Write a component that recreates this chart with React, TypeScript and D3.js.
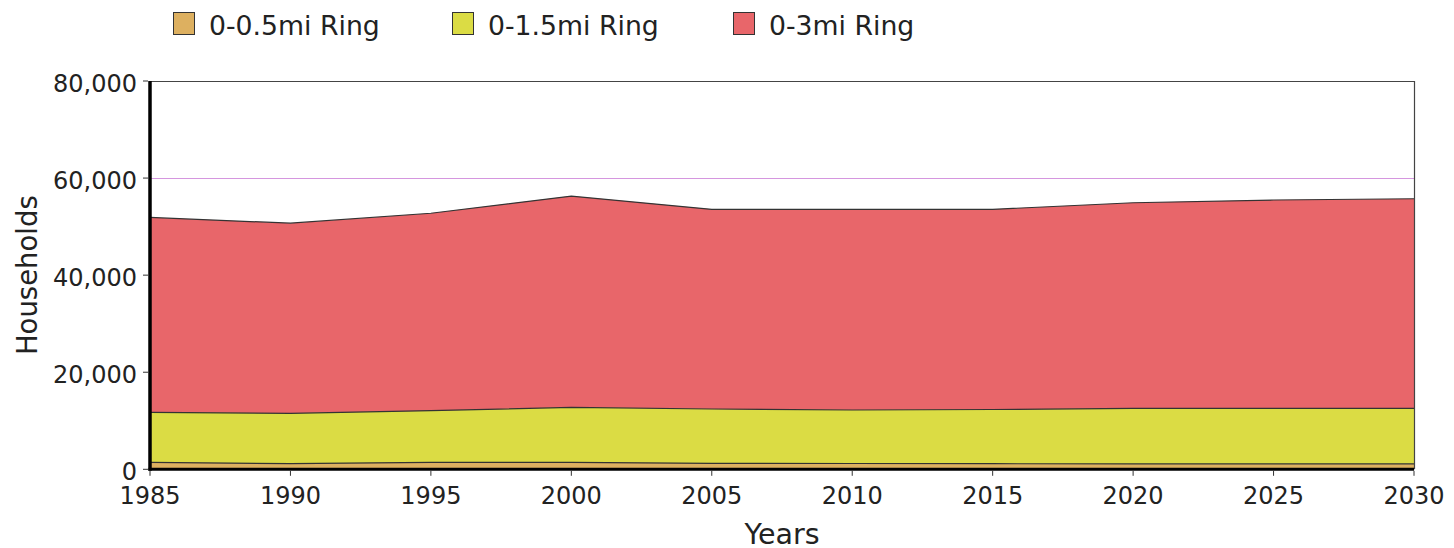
import * as d3 from "d3";
import { useEffect, useRef } from "react";

// years on the x axis
const years = [1985, 1990, 1995, 2000, 2005, 2010, 2015, 2020, 2025, 2030];
// households in each ring (rings overlap: 0-3mi includes 0-1.5mi etc.)
const ring05 = [1440, 1150, 1440, 1440, 1240, 1200, 1150, 1100, 1100, 1100];
const ring15 = [11740, 11540, 12070, 12770, 12420, 12220, 12320, 12570, 12570, 12570];
const ring3 = [51900, 50700, 52750, 56300, 53560, 53560, 53560, 54920, 55480, 55740];

const seriesNames = ["0-0.5mi Ring", "0-1.5mi Ring", "0-3mi Ring"];
const seriesColors = ["#ddb060", "#dbdc44", "#e8666a"];
const yTicks = [0, 20000, 40000, 60000, 80000];
const xTicks = [1985, 1990, 1995, 2000, 2005, 2010, 2015, 2020, 2025, 2030];

const FONT = "'DejaVu Sans', sans-serif";

const App = () => {
  const chartRef = useRef<SVGSVGElement | null>(null);

  const width = 1454;
  const height = 548;
  const margin = { top: 81, bottom: 78.7, left: 150, right: 40 };

  useEffect(() => {
    const svg = d3.select(chartRef.current);
    svg.selectAll("*").remove();

    const x = d3
      .scaleLinear()
      .domain([1985, 2030])
      .range([margin.left, width - margin.right]);
    const y = d3
      .scaleLinear()
      .domain([0, 80000])
      .range([height - margin.bottom, margin.top]);

    // white plot background
    svg
      .append("rect")
      .attr("x", 0)
      .attr("y", 0)
      .attr("width", width)
      .attr("height", height)
      .style("fill", "#fff");

    // gridlines
    svg
      .selectAll(".grid")
      .data(yTicks.filter((t) => t > 0 && t < 80000))
      .enter()
      .append("line")
      .attr("x1", x(1985))
      .attr("x2", x(2030))
      .attr("y1", (d) => Math.round(y(d)) + 0.5)
      .attr("y2", (d) => Math.round(y(d)) + 0.5)
      .style("stroke", "#d596df")
      .style("stroke-width", 1);

    // areas, largest ring behind
    const data = [ring05, ring15, ring3];
    [2, 1, 0].forEach((i) => {
      const vals = data[i];
      const area = d3
        .area<number>()
        .x((_, j) => x(years[j]))
        .y0(y(0))
        .y1((d) => y(d));
      const line = d3
        .line<number>()
        .x((_, j) => x(years[j]))
        .y((d) => y(d));
      svg.append("path").attr("d", area(vals)).style("fill", seriesColors[i]);
      svg
        .append("path")
        .attr("d", line(vals))
        .style("fill", "none")
        .style("stroke", "#333")
        .style("stroke-width", 1.2);
    });

    // top and right border
    svg
      .append("path")
      .attr(
        "d",
        `M${x(1985)},${margin.top + 0.5}H${x(2030) + 0.5}V${y(0)}`
      )
      .style("fill", "none")
      .style("stroke", "#444")
      .style("stroke-width", 1.2);

    // y axis
    const yAxis = svg.append("g");
    yAxis
      .append("line")
      .attr("x1", x(1985))
      .attr("x2", x(1985))
      .attr("y1", margin.top)
      .attr("y2", y(0) + 1.5)
      .style("stroke", "#000")
      .style("stroke-width", 3.5);
    yAxis
      .selectAll(".yt")
      .data(yTicks)
      .enter()
      .append("line")
      .attr("x1", x(1985) - 7)
      .attr("x2", x(1985) - 2)
      .attr("y1", (d) => y(d))
      .attr("y2", (d) => y(d))
      .style("stroke", "#333")
      .style("stroke-width", 1);
    yAxis
      .selectAll(".yl")
      .data(yTicks)
      .enter()
      .append("text")
      .attr("x", 137)
      .attr("y", (d) => y(d) + 10.5)
      .attr("text-anchor", "end")
      .style("font-family", FONT)
      .style("font-size", "24px")
      .style("fill", "#222")
      .text((d) => d3.format(",")(d));

    // x axis
    const xAxis = svg.append("g");
    xAxis
      .append("line")
      .attr("x1", x(1985) - 1.5)
      .attr("x2", x(2030))
      .attr("y1", y(0))
      .attr("y2", y(0))
      .style("stroke", "#000")
      .style("stroke-width", 3);
    xAxis
      .selectAll(".xt")
      .data(xTicks)
      .enter()
      .append("line")
      .attr("x1", (d) => x(d))
      .attr("x2", (d) => x(d))
      .attr("y1", y(0) + 1.5)
      .attr("y2", y(0) + 6.5)
      .style("stroke", "#333")
      .style("stroke-width", 1);
    xAxis
      .selectAll(".xl")
      .data(xTicks)
      .enter()
      .append("text")
      .attr("x", (d) => x(d))
      .attr("y", 503.5)
      .attr("text-anchor", "middle")
      .style("font-family", FONT)
      .style("font-size", "24px")
      .style("fill", "#222")
      .text((d) => String(d));

    // axis titles
    svg
      .append("text")
      .attr("x", (x(1985) + x(2030)) / 2)
      .attr("y", 544)
      .attr("text-anchor", "middle")
      .style("font-family", FONT)
      .style("font-size", "28.5px")
      .style("fill", "#222")
      .text("Years");
    svg
      .append("text")
      .attr("transform", `translate(37, ${(y(0) + y(80000)) / 2}) rotate(-90)`)
      .attr("text-anchor", "middle")
      .style("font-family", FONT)
      .style("font-size", "27.5px")
      .style("fill", "#222")
      .text("Households");

    // legend
    const legendX = [173, 452, 733];
    const legend = svg
      .selectAll(".legend")
      .data(seriesNames)
      .enter()
      .append("g")
      .attr("transform", (_, i) => `translate(${legendX[i]}, 0)`);
    legend
      .append("rect")
      .attr("x", 0.5)
      .attr("y", 12.5)
      .attr("width", 21)
      .attr("height", 22)
      .style("fill", (_, i) => seriesColors[i])
      .style("stroke", "#333")
      .style("stroke-width", 1);
    legend
      .append("text")
      .attr("x", 36)
      .attr("y", 35)
      .style("font-family", FONT)
      .style("font-size", "26.7px")
      .style("fill", "#222")
      .text((d) => d);
  }, []);

  return (
    <svg
      ref={chartRef}
      width={width}
      height={height}
      style={{ position: "absolute", left: 0, top: 0 }}
    ></svg>
  );
};

export default App;
